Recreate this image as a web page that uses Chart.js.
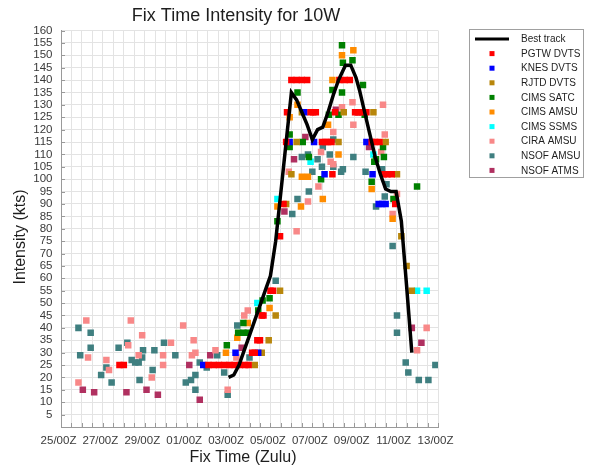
<!DOCTYPE html>
<html>
<head>
<meta charset="utf-8">
<title>Fix Time Intensity for 10W</title>
<script src="https://cdn.jsdelivr.net/npm/chart.js@4.4.1/dist/chart.umd.min.js"></script>
<style>
  html, body { margin: 0; padding: 0; background: #ffffff; }
  #wrap { width: 590px; height: 472px; }
</style>
</head>
<body>
<div id="wrap"><canvas id="chart" width="590" height="472"></canvas></div>
<script>
// Times are hours after 25/00Z; intensities are in knots.
const X_TICK_LABELS = ['25/00Z', '27/00Z', '29/00Z', '01/00Z', '03/00Z', '05/00Z', '07/00Z', '09/00Z', '11/00Z', '13/00Z'];

const BEST_TRACK = [
  [192, 20], [198, 21], [204, 25], [210, 31], [216, 37], [222, 43], [228, 49], [234, 55], [240, 61],
  [246, 75], [252, 95], [258, 115], [264, 135], [270, 132], [276, 127], [282, 122], [288, 116],
  [294, 120], [300, 121], [306, 127], [312, 134], [318, 140], [326, 146], [332, 146], [338, 141],
  [342, 136], [348, 127], [354, 118], [360, 109], [366, 102], [372, 96], [378, 95], [384, 95],
  [390, 83], [396, 57], [402, 30]
];

const PGTW_DVTS = [
  [67, 25], [72, 25],
  [169, 25], [175, 25], [181, 25], [187, 25], [193, 25], [199, 25], [205, 25], [211, 25], [215, 25],
  [219, 30], [222, 30], [225, 35], [228, 35], [230, 45], [232, 45], [240, 55], [243, 55],
  [251, 77], [255, 90], [258, 115], [259, 127],
  [264, 140], [270, 140], [276, 140], [282, 140],
  [286, 127], [289, 127], [292, 127],
  [299, 115], [303, 115], [306, 115], [310, 115],
  [311, 102], [314, 127],
  [319, 140], [325, 140], [331, 140],
  [337, 127], [341, 127], [345, 127], [350, 127],
  [356, 115], [360, 115], [365, 115],
  [370, 102], [374, 102], [379, 102],
  [383, 90]
];

const KNES_DVTS = [
  [163, 25], [200, 30], [226, 30], [262, 115], [279, 127], [290, 115], [302, 102],
  [350, 115], [357, 102], [364, 90], [368, 90], [372, 90]
];

const RJTD_DVTS = [
  [222, 25], [230, 30], [238, 35], [246, 45], [251, 55], [258, 90], [264, 102], [270, 115],
  [276, 127], [318, 115], [324, 127], [358, 127], [372, 115], [385, 102], [390, 77], [396, 65], [402, 55]
];

const CIMS_SATC = [
  [190, 33], [203, 38], [209, 38], [214, 38], [209, 42], [226, 47], [231, 51], [239, 52],
  [248, 83], [262, 118], [262, 113], [277, 115], [271, 135], [284, 109], [298, 100], [307, 126],
  [311, 136], [318, 126], [322, 135], [323, 147], [322, 154], [334, 148], [346, 138], [348, 126],
  [356, 99], [359, 107], [361, 108], [369, 113], [370, 109], [381, 92], [408, 97]
];

const CIMS_AMSU = [
  [189, 30], [202, 36], [214, 42], [239, 48], [248, 89], [262, 125], [271, 130], [275, 89],
  [276, 101], [283, 101], [300, 92], [306, 122], [311, 140], [318, 110], [322, 150], [335, 152],
  [356, 96], [380, 84]
];

const CIMS_SSMS = [
  [225, 50], [248, 92], [286, 107], [358, 110], [408, 55], [419, 55]
];

const CIRA_AMSU = [
  [20, 18], [29, 43], [31, 28], [52, 27], [55, 23], [77, 33], [80, 43], [89, 29], [93, 37],
  [104, 20], [117, 29], [117, 25], [126, 34], [140, 41], [150, 29], [152, 35], [154, 30],
  [177, 31], [191, 15], [201, 28], [210, 45], [214, 47],
  [261, 103], [270, 79], [283, 91], [295, 97], [298, 111], [309, 107], [312, 106], [312, 119],
  [322, 129], [334, 131], [335, 122], [367, 111], [369, 130], [371, 118], [380, 86], [385, 94],
  [408, 31], [419, 40]
];

const NSOF_AMSU = [
  [20, 40], [22, 29], [34, 38], [34, 32], [46, 21], [52, 24], [58, 18], [66, 32], [76, 34],
  [81, 27], [85, 26], [89, 26], [90, 19], [93, 28], [94, 31], [105, 23], [107, 31], [118, 34],
  [131, 29], [143, 18], [149, 19], [154, 21], [154, 15], [159, 26], [167, 24], [179, 29],
  [187, 22], [191, 13], [202, 41], [216, 28], [246, 59], [265, 86], [271, 92], [276, 109],
  [283, 110], [284, 95], [288, 103], [294, 108], [299, 105], [300, 113], [308, 110], [312, 116],
  [312, 105], [321, 103], [323, 104], [335, 109], [349, 103], [361, 89], [368, 104], [371, 93],
  [373, 98], [380, 73], [385, 45], [385, 38], [395, 26], [398, 22], [410, 19], [421, 19], [429, 25]
];

const NSOF_ATMS = [
  [25, 15], [38, 14], [75, 14], [98, 15], [111, 13], [147, 25], [159, 11], [171, 29], [207, 32],
  [256, 87], [267, 108], [280, 117], [315, 128], [340, 127], [353, 113], [402, 40], [413, 34]
];

const FONT = '"Liberation Sans", Arial, Helvetica, sans-serif';
const toXY = pairs => pairs.map(([h, k]) => ({ x: h, y: k }));

const FIXES = [
  { label: 'PGTW DVTS', data: PGTW_DVTS, color: '#ff0000' },
  { label: 'KNES DVTS', data: KNES_DVTS, color: '#0000ff' },
  { label: 'RJTD DVTS', data: RJTD_DVTS, color: '#b8860b' },
  { label: 'CIMS SATC', data: CIMS_SATC, color: '#008000' },
  { label: 'CIMS AMSU', data: CIMS_AMSU, color: '#ff8c00' },
  { label: 'CIMS SSMS', data: CIMS_SSMS, color: '#00ffff' },
  { label: 'CIRA AMSU', data: CIRA_AMSU, color: '#f88888' },
  { label: 'NSOF AMSU', data: NSOF_AMSU, color: '#3f7f80' },
  { label: 'NSOF ATMS', data: NSOF_ATMS, color: '#b03060' }
];

const datasets = [{
  label: 'Best track',
  data: toXY(BEST_TRACK),
  showLine: true,
  borderColor: '#000000',
  backgroundColor: '#000000',
  borderWidth: 3.5,
  pointRadius: 0,
  tension: 0,
  fill: false
}];
FIXES.forEach(f => datasets.push({
  label: f.label,
  data: toXY(f.data),
  showLine: false,
  backgroundColor: f.color,
  borderColor: f.color,
  pointStyle: 'rect',
  pointRadius: 4.6,
  pointBorderWidth: 0,
  pointHoverRadius: 4.6
}));

// Small tick marks drawn on the inside of the left and bottom axes.
const innerTicks = {
  id: 'innerTicks',
  afterDatasetsDraw(chart) {
    const { ctx, chartArea: a, scales: { x, y } } = chart;
    ctx.save();
    ctx.strokeStyle = '#999999';
    ctx.lineWidth = 1;
    ctx.beginPath();
    y.ticks.forEach(t => {
      const py = Math.round(y.getPixelForValue(t.value)) + 0.5;
      ctx.moveTo(a.left, py); ctx.lineTo(a.left + 4, py);
    });
    x.ticks.forEach(t => {
      const px = Math.round(x.getPixelForValue(t.value)) + 0.5;
      ctx.moveTo(px, a.bottom); ctx.lineTo(px, a.bottom - 4);
    });
    ctx.stroke();
    ctx.restore();
  }
};

// Chart title and axis titles.
const titles = {
  id: 'titles',
  afterDraw(chart) {
    const { ctx } = chart;
    ctx.save();
    ctx.fillStyle = '#1e1e1e';
    ctx.textAlign = 'center';
    ctx.textBaseline = 'middle';
    ctx.font = '18px ' + FONT;
    ctx.fillText('Fix Time Intensity for 10W', 236, 16);
    ctx.font = '16px ' + FONT;
    ctx.fillText('Fix Time (Zulu)', 243, 458);
    ctx.translate(21, 237);
    ctx.rotate(-Math.PI / 2);
    ctx.fillText('Intensity (kts)', 0, 0);
    ctx.restore();
  }
};

// Boxed legend to the right of the plot, built from the datasets.
const boxLegend = {
  id: 'boxLegend',
  afterDraw(chart) {
    const { ctx } = chart;
    const left = 469.5, top = 29.5, width = 114, height = 148;
    const rowY = i => 39 + i * 14.6;
    ctx.save();
    ctx.fillStyle = '#ffffff';
    ctx.fillRect(left, top, width, height);
    ctx.strokeStyle = '#a0a0a0';
    ctx.lineWidth = 1;
    ctx.strokeRect(left, top, width, height);
    ctx.font = '10px ' + FONT;
    ctx.textBaseline = 'middle';
    ctx.textAlign = 'left';
    chart.data.datasets.forEach((ds, i) => {
      const yy = rowY(i);
      if (ds.showLine) {
        ctx.strokeStyle = ds.borderColor;
        ctx.lineWidth = 3;
        ctx.beginPath();
        ctx.moveTo(475, yy); ctx.lineTo(509, yy);
        ctx.stroke();
      } else {
        ctx.fillStyle = ds.backgroundColor;
        ctx.fillRect(489.5, yy - 2.5, 5, 5);
      }
      ctx.fillStyle = '#1e1e1e';
      ctx.fillText(ds.label, 521, yy + 0.5);
    });
    ctx.restore();
  }
};

new Chart(document.getElementById('chart'), {
  type: 'scatter',
  data: { datasets },
  options: {
    responsive: false,
    animation: false,
    devicePixelRatio: 1,
    layout: { padding: { top: 30.5, right: 152, bottom: 0, left: 0 } },
    plugins: {
      legend: { display: false },
      title: { display: false },
      tooltip: { enabled: false }
    },
    scales: {
      x: {
        type: 'linear',
        min: 0,
        max: 432,
        afterFit: s => { s.height = 45; },
        border: { color: '#9a9a9a', width: 1 },
        grid: { color: '#e3e3e3', lineWidth: 1, drawTicks: false },
        ticks: {
          stepSize: 12,
          autoSkip: false,
          maxRotation: 0,
          padding: 7,
          labelOffset: -2.5,
          color: '#3a3a3a',
          font: { family: FONT, size: 11.5 },
          callback: v => (v % 48 === 0 ? X_TICK_LABELS[v / 48] : '')
        }
      },
      y: {
        type: 'linear',
        min: 0,
        max: 160,
        afterFit: s => { s.width = 61; },
        border: { color: '#9a9a9a', width: 1 },
        grid: { color: '#e3e3e3', lineWidth: 1, drawTicks: false },
        ticks: {
          stepSize: 5,
          autoSkip: false,
          padding: 8.5,
          color: '#3a3a3a',
          font: { family: FONT, size: 11.5 },
          callback: v => (v === 0 ? '' : v)
        }
      }
    }
  },
  plugins: [innerTicks, titles, boxLegend]
});
</script>
</body>
</html>
